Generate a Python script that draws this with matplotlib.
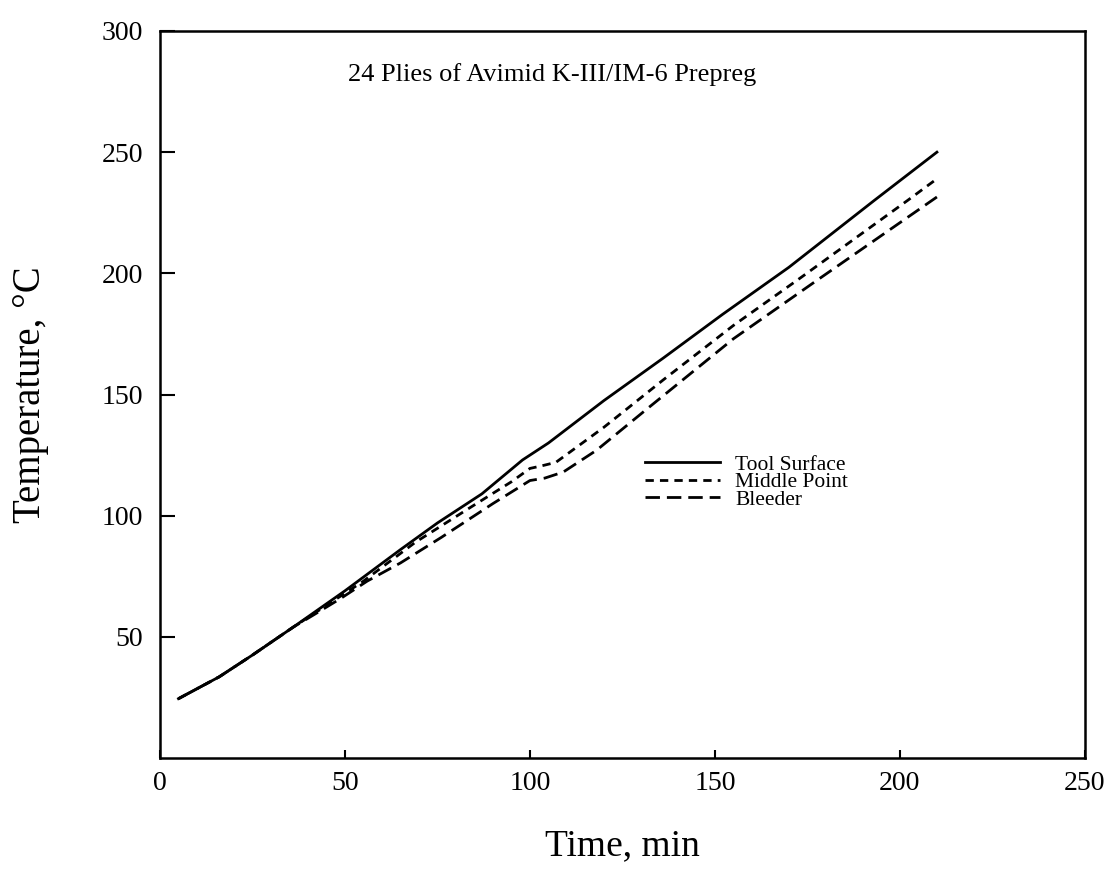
import matplotlib
matplotlib.use("Agg")
import matplotlib.pyplot as plt

# ---- data ----
time_tool = [5, 16, 25, 36, 50, 65, 75, 87, 98, 105, 120, 136, 152, 170, 193, 210]
temp_tool = [24.5, 33.5, 42.5, 54, 69, 86, 97, 109, 123, 130, 147.5, 165, 183, 202.5, 230, 250]

time_mid = [5, 16, 25, 36, 45, 55, 69, 84, 95, 100, 103, 107, 120, 136, 155, 173, 202, 210]
temp_mid = [24.5, 33.5, 42.5, 54, 63, 73, 89, 103.5, 114, 119.5, 120.5, 122, 136.5, 156, 178.5, 198, 230, 239]

time_bleed = [5, 16, 25, 36, 42, 49, 56, 65, 76, 90, 100, 104, 109, 118, 132, 155, 177, 210]
temp_bleed = [24.5, 33.5, 42.5, 54, 59.5, 66, 73, 80.5, 91, 105, 114.5, 115.5, 118, 127, 144.5, 173, 196.5, 231.5]

series_names = ["Tool Surface", "Middle Point", "Bleeder"]
x_ticks = [0, 50, 100, 150, 200, 250]
y_ticks = [50, 100, 150, 200, 250, 300]

plt.rcParams['font.family'] = ['Liberation Serif', 'DejaVu Serif']

fig = plt.figure(figsize=(11.15, 8.8), dpi=100)
ax = fig.add_axes([0.1435, 0.1386, 0.8295, 0.8262])

ax.plot(time_tool, temp_tool, color='black', lw=2, linestyle='-', label=series_names[0])
ax.plot(time_mid, temp_mid, color='black', lw=2, linestyle=(0, (3, 2.2)), label=series_names[1])
ax.plot(time_bleed, temp_bleed, color='black', lw=2, linestyle=(0, (5.2, 2.5)), label=series_names[2])

ax.set_xlim(0, 250)
ax.set_ylim(0, 300)
ax.set_xticks(x_ticks)
ax.set_yticks(y_ticks)
ax.tick_params(axis='both', direction='in', labelsize=20, width=1.5)
ax.tick_params(axis='x', length=6, pad=9)
ax.tick_params(axis='y', length=11, pad=12)
for s in ax.spines.values():
    s.set_linewidth(1.8)

ax.set_xlabel("Time, min", fontsize=27, labelpad=24)
ax.set_ylabel("Temperature, \u00b0C", fontsize=28, labelpad=38)

ax.text(0.424, 0.94, "24 Plies of Avimid K-III/IM-6 Prepreg", transform=ax.transAxes,
        ha='center', va='center', fontsize=19)

ax.legend(loc='upper left', bbox_to_anchor=(0.524, 0.417), frameon=False,
          fontsize=15.5, handlelength=3.5, handletextpad=0.7, labelspacing=-0.12,
          borderpad=0, borderaxespad=0)

fig.savefig("out.png", dpi=100)
